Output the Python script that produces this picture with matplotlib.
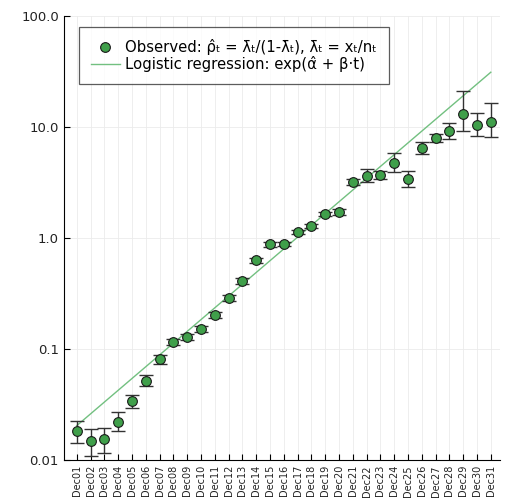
import matplotlib
matplotlib.use("Agg")
import matplotlib.pyplot as plt
import numpy as np
from matplotlib.ticker import FixedLocator, NullLocator

days = ["Dec%02d" % d for d in range(1, 32)]

# observed odds and their interval bounds
obs = [0.0182, 0.0148, 0.0155, 0.022, 0.034, 0.052, 0.081, 0.116, 0.128, 0.151,
       0.202, 0.288, 0.41, 0.63, 0.88, 0.89, 1.13, 1.28, 1.64, 1.71,
       3.19, 3.6, 3.7, 4.74, 3.4, 6.47, 7.95, 9.2, 13.1, 10.4, 11.1]
upper = [0.0225, 0.019, 0.0194, 0.027, 0.039, 0.058, 0.088, 0.124, 0.136, 0.161,
         0.215, 0.306, 0.44, 0.66, 0.92, 0.93, 1.18, 1.34, 1.71, 1.82,
         3.4, 4.19, 4.0, 5.83, 4.01, 7.3, 8.67, 10.9, 21.1, 13.4, 16.4]
lower = [0.0142, 0.0109, 0.0116, 0.0182, 0.0294, 0.0465, 0.074, 0.109, 0.120, 0.142,
         0.190, 0.270, 0.385, 0.60, 0.84, 0.85, 1.08, 1.23, 1.57, 1.61,
         3.0, 3.19, 3.4, 3.93, 2.88, 5.7, 7.33, 7.8, 9.2, 8.4, 8.1]

# fitted logistic regression parameters
alpha_hat = -3.89
beta_hat = 0.2444

t = np.arange(len(days))
obs = np.array(obs)
yerr = [obs - np.array(lower), np.array(upper) - obs]
fit = np.exp(alpha_hat + beta_hat * t)

fig = plt.figure(figsize=(5.1, 5.04), dpi=100)
ax = fig.add_axes([0.125, 0.087, 0.855, 0.881])

ax.plot(t, fit, color="#72c080", lw=1.0, zorder=2,
        label="Logistic regression: exp(\u03b1\u0302 + \u03b2\u00b7t)")
ax.errorbar(t, obs, yerr=yerr, fmt="none", ecolor="#333333", elinewidth=1.0,
            capsize=5, capthick=1.0, zorder=3)
ax.plot(t, obs, "o", ms=7, mfc="#3f9f4a", mec="#1a1a1a", mew=0.8, zorder=4,
        label="Observed: \u03c1\u0302\u209c = \u03bb\u0304\u209c/(1-\u03bb\u0304\u209c), "
              "\u03bb\u0304\u209c = x\u209c/n\u209c")

ax.set_yscale("log")
ax.set_ylim(0.01, 100)
ax.set_xlim(-0.94, 30.65)
ax.yaxis.set_major_locator(FixedLocator([0.01, 0.1, 1, 10, 100]))
ax.yaxis.set_minor_locator(NullLocator())
ax.set_yticklabels(["0.01", "0.1", "1.0", "10.0", "100.0"], fontsize=9.5, color="#222222")
ax.set_xticks(t)
ax.set_xticklabels(days, rotation=90, fontsize=7, color="#222222")
ax.tick_params(direction="in", length=4, width=0.8)
ax.grid(True, color="#ebebeb", lw=0.6)
for s in ["top", "right"]:
    ax.spines[s].set_visible(False)

h, l = ax.get_legend_handles_labels()
leg = ax.legend(h[::-1], l[::-1], loc="upper left", bbox_to_anchor=(0.024, 0.985),
                fontsize=10.7, frameon=True, fancybox=False, edgecolor="#333333",
                borderpad=0.8, labelspacing=0.05, handlelength=2.0, handletextpad=0.35,
                borderaxespad=0.3)
leg.get_frame().set_linewidth(0.9)

fig.savefig("out.png", dpi=100)
